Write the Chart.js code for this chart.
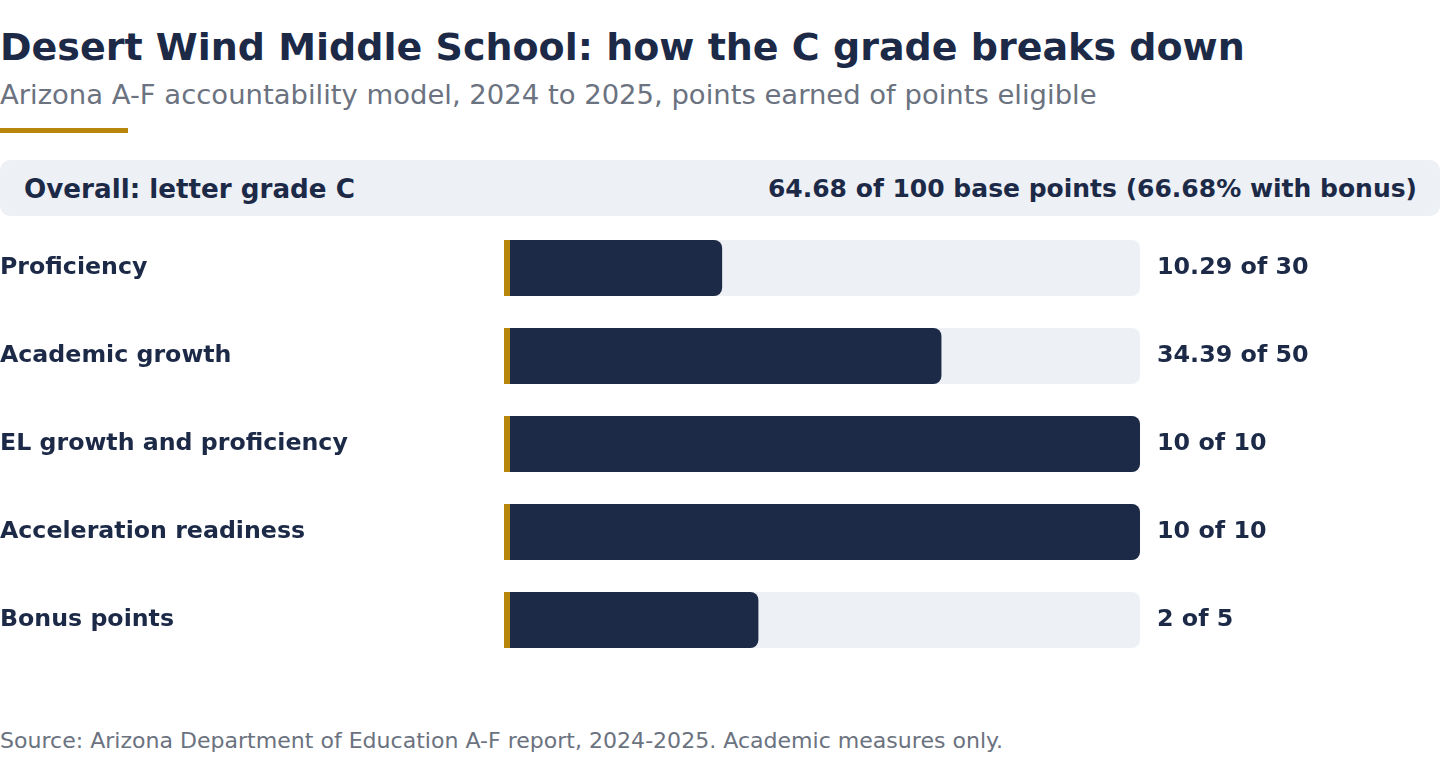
<!DOCTYPE html>
<html><head><meta charset="utf-8">
<script src="https://cdn.jsdelivr.net/npm/chart.js@4.4.1/dist/chart.umd.min.js"></script>
<style>
html,body{margin:0;padding:0;background:#fff;width:1440px;height:768px;overflow:hidden;font-family:"DejaVu Sans",sans-serif;}
#title{position:absolute;left:0;top:23px;font-size:38px;font-weight:bold;color:#1c2a47;white-space:nowrap;line-height:48px;}
#sub{position:absolute;left:0;top:78px;font-size:27.45px;color:#6b7280;white-space:nowrap;line-height:34px;}
#rule{position:absolute;left:0;top:128px;width:128px;height:5px;background:#b8860b;}
#overall{position:absolute;left:0;top:160px;width:1440px;height:56px;background:#edf0f5;border-radius:10px;color:#1c2a47;font-weight:bold;}
#overall .l{position:absolute;left:24px;top:0;line-height:58px;font-size:26.2px;}
#overall .r{position:absolute;right:23px;top:0;line-height:58px;font-size:25px;}
#wrap{position:absolute;left:0;top:224px;width:1440px;height:440px;}
#src{position:absolute;left:0;top:726px;font-size:22.05px;color:#6b7280;white-space:nowrap;line-height:30px;}
</style></head><body>
<div id="title">Desert Wind Middle School: how the C grade breaks down</div>
<div id="sub">Arizona A-F accountability model, 2024 to 2025, points earned of points eligible</div>
<div id="rule"></div>
<div id="overall"><span class="l">Overall: letter grade C</span><span class="r">64.68 of 100 base points (66.68% with bonus)</span></div>
<div id="wrap"><canvas id="c"></canvas></div>
<div id="src">Source: Arizona Department of Education A-F report, 2024-2025. Academic measures only.</div>
<script>
const categories = ["Proficiency","Academic growth","EL growth and proficiency","Acceleration readiness","Bonus points"];
const earned = [10.29, 34.39, 10, 10, 2];
const eligible = [30, 50, 10, 10, 5];
const valueLabels = ["10.29 of 30","34.39 of 50","10 of 10","10 of 10","2 of 5"];

const NAVY="#1c2a47", TRACK="#edf0f5", GOLD="#b8860b";
const share = earned.map((v,i)=>v/eligible[i]);
const full = eligible.map(()=>1);

const goldPlugin = {
  id:'gold',
  afterDatasetsDraw(chart){
    const ctx=chart.ctx, meta=chart.getDatasetMeta(1), x0=chart.scales.x.getPixelForValue(0);
    ctx.save(); ctx.fillStyle=GOLD;
    meta.data.forEach(b=>{ctx.fillRect(x0, b.y-b.height/2, 6, b.height);});
    ctx.restore();
  }
};

new Chart(document.getElementById('c'),{
  type:'bar',
  data:{labels:categories,datasets:[
    {data:full,backgroundColor:TRACK,borderRadius:8,borderSkipped:false,grouped:false,order:2,barPercentage:56/88,categoryPercentage:1},
    {data:share,backgroundColor:NAVY,borderRadius:{topLeft:0,bottomLeft:0,topRight:8,bottomRight:8},borderSkipped:false,grouped:false,order:1,barPercentage:56/88,categoryPercentage:1}
  ]},
  options:{
    indexAxis:'y',responsive:true,maintainAspectRatio:false,animation:false,
    layout:{padding:0,autoPadding:false},
    plugins:{legend:{display:false},tooltip:{enabled:false}},
    scales:{
      x:{min:0,max:1,display:false},
      y:{position:'left',grid:{display:false,drawTicks:false},border:{display:false},
        ticks:{crossAlign:'far',color:NAVY,font:{family:'DejaVu Sans',size:23.7,weight:'bold'},padding:0},
        afterFit(s){s.width=504;s.paddingTop=0;s.paddingBottom=0;}},
      y2:{position:'right',type:'category',labels:valueLabels,offset:true,grid:{display:false,drawTicks:false},border:{display:false},
        ticks:{color:NAVY,font:{family:'DejaVu Sans',size:23.8,weight:'bold'},padding:17},
        afterFit(s){s.width=300;s.paddingTop=0;s.paddingBottom=0;}}
    }
  },
  plugins:[goldPlugin]
});
</script>
</body></html>
